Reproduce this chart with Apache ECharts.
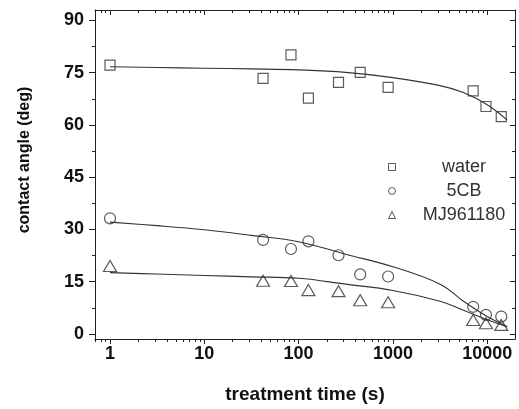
<!DOCTYPE html>
<html><head><meta charset="utf-8">
<script src="https://cdn.jsdelivr.net/npm/echarts@6/dist/echarts.min.js"></script>
<style>html,body{margin:0;padding:0;background:#fff}#c{width:519px;height:409px}</style>
</head><body><div id="c"></div>
<script>
// measurement times (s)
const times = [1, 42, 83, 127, 265, 450, 890, 7100, 9700, 14100];
// contact angles (deg)
const water = [77.2, 73.4, 80.1, 67.7, 72.2, 75.1, 70.8, 69.8, 65.3, 62.4];
const cb5 = [33.2, 27.0, 24.4, 26.6, 22.6, 17.1, 16.5, 7.8, 5.5, 5.0];
const mj = [19.5, 15.3, 15.2, 12.6, 12.3, 9.7, 9.1, 4.0, 3.1, 2.6];
// fitted curves
const fitT = [1, 3.16, 10, 31.6, 100, 316, 1000, 3162, 5600, 10000, 16300];
const fitWaterV = [76.7, 76.5, 76.3, 76.1, 75.8, 75.1, 73.6, 71.3, 69.3, 65.8, 61.4];
const fit5cbV = [32.1, 31.1, 29.9, 28.3, 26.5, 22.9, 19.3, 14.3, 9.4, 5.0, 2.1];
const fitMjV = [17.6, 17.2, 16.8, 16.4, 16.0, 14.3, 12.5, 9.4, 6.8, 4.1, 2.1];
// ticks
const xMajor = [1, 10, 100, 1000, 10000];
const xMinor = [0.7, 0.8, 0.9, 2, 3, 4, 5, 6, 7, 8, 9, 20, 30, 40, 50, 60, 70, 80, 90,
  200, 300, 400, 500, 600, 700, 800, 900, 2000, 3000, 4000, 5000, 6000, 7000, 8000, 9000];
const yMajor = [0, 15, 30, 45, 60, 75, 90];
const yMinor = [7.5, 22.5, 37.5, 52.5, 67.5, 82.5];
const legendNames = ['water', '5CB', 'MJ961180'];

const FONT = "'Liberation Sans', Arial, sans-serif";
const INK = '#222';
const XMIN = 0.693, XMAX = 19720, YMIN = -1.44, YMAX = 93.0;

function xAx(pos, vals, len, inside, line, labels) {
  return {
    type: 'log', position: pos, min: XMIN, max: XMAX, gridIndex: 0,
    axisLine: { show: line, onZero: false, lineStyle: { color: INK, width: 1 } },
    axisTick: { show: true, customValues: vals, length: len, inside: inside, lineStyle: { color: INK, width: 1 } },
    axisLabel: labels ? { show: true, customValues: vals, formatter: v => String(Math.round(v)), fontFamily: FONT, fontSize: 18, fontWeight: 'bold', color: '#111', margin: 6 } : { show: false },
    splitLine: { show: false }, minorTick: { show: false }
  };
}
function yAx(pos, vals, len, inside, line, labels) {
  return {
    type: 'value', position: pos, min: YMIN, max: YMAX, gridIndex: 0,
    axisLine: { show: line, onZero: false, lineStyle: { color: INK, width: 1 } },
    axisTick: { show: true, customValues: vals, length: len, inside: inside, lineStyle: { color: INK, width: 1 } },
    axisLabel: labels ? { show: true, customValues: vals, fontFamily: FONT, fontSize: 18, fontWeight: 'bold', color: '#111', margin: 11 } : { show: false },
    splitLine: { show: false }, minorTick: { show: false }
  };
}
const xAxes = [
  xAx('bottom', xMajor, 5, false, true, true),
  xAx('bottom', xMinor, 3, false, false, false),
  xAx('top', xMajor, 5, true, true, false),
  xAx('top', xMinor, 3, true, false, false)
];
Object.assign(xAxes[0], { name: 'treatment time (s)', nameLocation: 'middle', nameGap: 46,
  nameTextStyle: { fontFamily: FONT, fontSize: 19, fontWeight: 'bold', color: '#111' } });
const yAxes = [
  yAx('left', yMajor, 6, false, true, true),
  yAx('left', yMinor, 3, false, false, false),
  yAx('right', yMajor, 5, true, true, false),
  yAx('right', yMinor, 3, true, false, false)
];
Object.assign(yAxes[0], { name: 'contact angle (deg)', nameLocation: 'middle', nameGap: 62, nameRotate: 90,
  nameTextStyle: { fontFamily: FONT, fontSize: 16, fontWeight: 'bold', color: '#111', padding: [0, 0, 0, 29] } });

const markStyle = { color: 'rgba(255,255,255,0)', borderColor: '#333', borderWidth: 1.2 };
const pairs = (ts, vs) => ts.map((t, i) => [t, vs[i]]);
const fitLine = (name, ts, vs) => ({
  name: name, type: 'line', data: pairs(ts, vs), showSymbol: false, symbol: 'none',
  smooth: 0.4, lineStyle: { color: '#333', width: 1.1 }, silent: true, z: 2
});

const chart = echarts.init(document.getElementById('c'), null, { renderer: 'canvas' });
chart.setOption({
  animation: false,
  backgroundColor: '#fff',
  grid: { left: 95, right: 4, top: 10, bottom: 70, containLabel: false },
  xAxis: xAxes,
  yAxis: yAxes,
  legend: {
    data: legendNames, orient: 'vertical', left: 383, top: 152,
    itemWidth: 7, itemHeight: 7, itemGap: 4,
    formatter: '{a|{name}}',
    textStyle: { fontFamily: FONT, fontSize: 18, color: '#333', lineHeight: 20,
      rich: { a: { width: 127, align: 'center', fontFamily: FONT, fontSize: 18, color: '#333', lineHeight: 20 } } },
    itemStyle: { borderWidth: 1, borderColor: '#333' }
  },
  series: [
    fitLine('fit water', fitT, fitWaterV),
    fitLine('fit 5CB', fitT, fit5cbV),
    fitLine('fit MJ961180', fitT, fitMjV),
    { name: legendNames[0], type: 'scatter', symbol: 'rect', symbolSize: 10, data: pairs(times, water), itemStyle: markStyle, z: 3 },
    { name: legendNames[1], type: 'scatter', symbol: 'circle', symbolSize: 11, data: pairs(times, cb5), itemStyle: markStyle, z: 3 },
    { name: legendNames[2], type: 'scatter', symbol: 'triangle', symbolSize: [13, 11], data: pairs(times, mj), itemStyle: markStyle, z: 3 }
  ]
});
</script></body></html>
